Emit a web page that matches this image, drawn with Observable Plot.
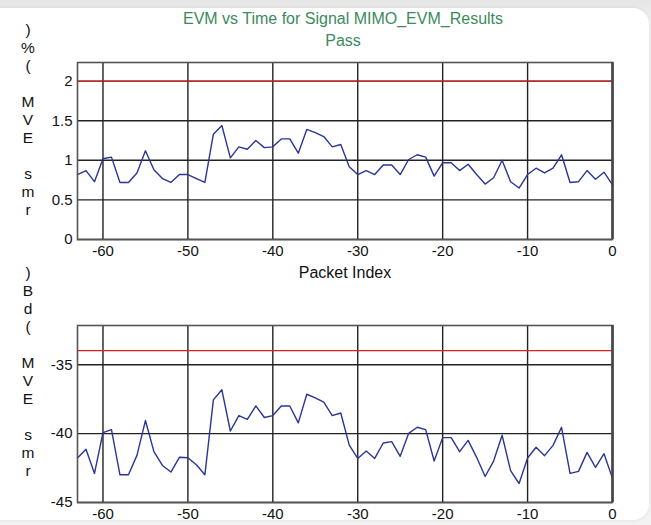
<!DOCTYPE html>
<html>
<head>
<meta charset="utf-8">
<script src="https://cdn.jsdelivr.net/npm/d3@7"></script>
<script src="https://cdn.jsdelivr.net/npm/@observablehq/plot@0.6"></script>
<style>
  html, body { margin: 0; padding: 0; }
  body { width: 651px; height: 525px; background: linear-gradient(#e6e6e6, #f3f3f3 30px, #f3f3f3); position: relative; overflow: hidden; font-family: "Liberation Sans", Arial, sans-serif; }
  #card { position: absolute; left: -20px; top: 8px; width: 669px; height: 512px; background: #fff; border-radius: 0 16px 16px 0; box-shadow: 0 0 4px rgba(0,0,0,0.08); }
  .title { position: absolute; left: 0; width: 686px; text-align: center; color: #3c8a5c; font-size: 16px; line-height: 19px; }
  .ylab { position: absolute; left: 18px; width: 20px; text-align: center; font-size: 15.5px; line-height: 18px; color: #111; white-space: pre; }
  .plot { position: absolute; left: 0; }
  .plot g[aria-label="x-axis label"] text { font-size: 16px; }
</style>
</head>
<body>
<div id="card"></div>
<div class="title" style="top:9px">EVM vs Time for Signal MIMO_EVM_Results</div>
<div class="title" style="top:31px">Pass</div>
<div id="ylab1" class="ylab" style="top:21px"></div>
<div id="ylab2" class="ylab" style="top:264px"></div>
<div id="p1" class="plot" style="top:0px"></div>
<div id="p2" class="plot" style="top:300px"></div>
<script>
const packetIndex = d3.range(-63, 1);
const evmPercent = [
  0.82, 0.87, 0.73, 1.02, 1.04, 0.72, 0.72, 0.84, 1.12, 0.88,
  0.77, 0.72, 0.82, 0.82, 0.77, 0.72, 1.33, 1.44, 1.03, 1.17,
  1.14, 1.25, 1.16, 1.17, 1.27, 1.27, 1.09, 1.39, 1.35, 1.30,
  1.17, 1.20, 0.92, 0.82, 0.87, 0.82, 0.94, 0.94, 0.82, 1.01,
  1.07, 1.04, 0.80, 0.97, 0.97, 0.87, 0.95, 0.82, 0.70, 0.78,
  1.00, 0.73, 0.65, 0.82, 0.90, 0.84, 0.90, 1.07, 0.72, 0.73,
  0.87, 0.76, 0.85, 0.69
];
const evmDb = [
  -41.77, -41.14, -42.89, -39.93, -39.71, -42.99, -42.99, -41.58, -39.05, -41.31,
  -42.31, -42.79, -41.72, -41.75, -42.26, -42.99, -37.55, -36.82, -39.81, -38.69,
  -38.96, -37.99, -38.83, -38.69, -37.99, -37.99, -39.22, -37.14, -37.40, -37.72,
  -38.69, -38.50, -40.83, -41.80, -41.26, -41.80, -40.68, -40.58, -41.65, -39.98,
  -39.54, -39.71, -41.99, -40.29, -40.29, -41.31, -40.49, -41.72, -43.11, -41.99,
  -40.12, -42.69, -43.62, -41.77, -40.99, -41.60, -40.85, -39.54, -42.89, -42.74,
  -41.36, -42.45, -41.46, -43.25
];
const limitPercent = 2;
const limitDb = -33.98;
const xTicks = [-60, -50, -40, -30, -20, -10, 0];
const yTicksPercent = [0, 0.5, 1, 1.5, 2];
const yTicksDb = [-45, -40, -35];
const yLabelPercent = [")", "%", "(", " ", "M", "V", "E", " ", "s", "m", "r"];
const yLabelDb = [")", "B", "d", "(", " ", "M", "V", "E", " ", "s", "m", "r"];

document.getElementById("ylab1").textContent = yLabelPercent.join("\n");
document.getElementById("ylab2").textContent = yLabelDb.join("\n");

const tablePct = packetIndex.map((x, i) => ({x, y: evmPercent[i]}));
const tableDb = packetIndex.map((x, i) => ({x, y: evmDb[i]}));

function panel(data, yDomain, yTicks, limit, layout, xLabel) {
  return Plot.plot({
    width: 651,
    marginLeft: 77,
    marginRight: 39,
    ...layout,
    style: {fontFamily: "Liberation Sans, Arial, sans-serif", fontSize: "15px", color: "#111", background: "transparent", overflow: "visible"},
    x: {domain: [-63, 0], ticks: xTicks, tickSize: 0, tickPadding: 6, label: xLabel, labelAnchor: "center", labelArrow: "none", labelOffset: 38, tickFormat: d => String(d)},
    y: {domain: yDomain, ticks: yTicks, tickSize: 0, tickPadding: 5, label: null, tickFormat: d => String(d)},
    marks: [
      Plot.gridX(xTicks.filter(t => t !== 0), {stroke: "#222", strokeOpacity: 1, strokeWidth: 1.4}),
      Plot.gridY(yTicks, {stroke: "#222", strokeOpacity: 1, strokeWidth: 1.4}),
      Plot.ruleY([limit], {stroke: "#e02020", strokeWidth: 1.2}),
      Plot.line(data, {x: "x", y: "y", stroke: "#2a3596", strokeWidth: 1.4}),
      Plot.frame({stroke: "#555", strokeWidth: 1.6}),
      Plot.ruleX([0], {stroke: "#444", strokeWidth: 2.6})
    ]
  });
}

const p1 = panel(tablePct, [0, 2.235], yTicksPercent, limitPercent,
  {height: 290, marginTop: 62, marginBottom: 51}, "Packet Index");
document.getElementById("p1").append(p1);

const p2 = panel(tableDb, [-45, -32.15], yTicksDb, limitDb,
  {height: 225, marginTop: 25, marginBottom: 23}, null);
document.getElementById("p2").append(p2);
</script>
</body>
</html>
